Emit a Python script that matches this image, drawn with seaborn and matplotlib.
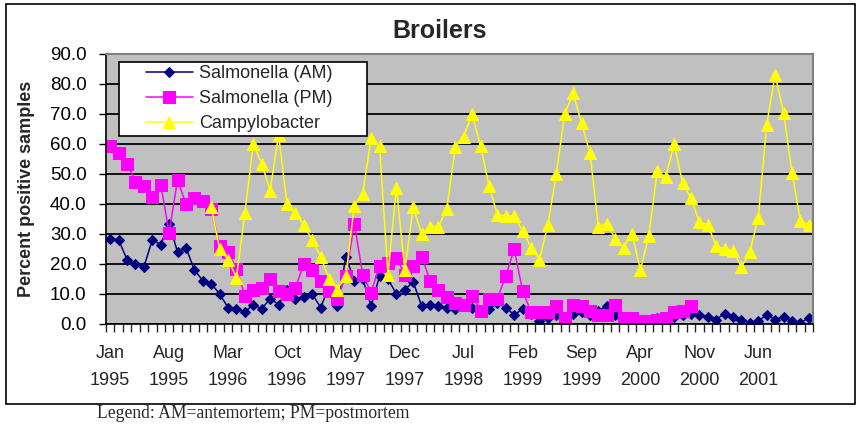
"""Broilers: monthly Salmonella / Campylobacter percent positive samples."""

import numpy as np
import pandas as pd
import matplotlib
matplotlib.use('Agg')
import matplotlib.pyplot as plt
from matplotlib.patches import Rectangle
from matplotlib.ticker import FixedLocator, FormatStrFormatter
import seaborn as sns

# Monthly values, Jan 1995 - Dec 2001 (percent positive samples)
salmonella_am = [28.5, 28.0, 21.5, 20.0, 19.0, 28.0, 26.5, 33.5, 24.0, 25.5,
                 18.0, 14.5, 13.5, 10.0, 5.5, 5.0, 4.0, 6.5, 5.0, 8.5,
                 6.5, 11.5, 8.5, 9.0, 10.0, 5.5, 12.5, 6.0, 22.5, 14.5,
                 15.0, 6.0, 16.0, 15.0, 10.0, 11.5, 14.0, 6.0, 6.5, 6.0,
                 5.5, 5.0, 6.0, 5.5, 4.5, 5.0, 7.0, 5.5, 3.0, 5.0,
                 3.5, 1.0, 2.0, 3.0, 1.5, 3.5, 4.0, 3.0, 4.5, 6.0,
                 3.0, 1.0, 1.5, 0.5, 1.0, 2.0, 1.5, 2.5, 3.0, 3.5,
                 3.0, 2.5, 1.5, 3.5, 2.5, 1.5, 0.5, 1.0, 3.0, 1.5,
                 2.5, 1.0, 0.5, 2.0]

salmonella_pm = [59.5, 57.0, 53.5, 47.5, 46.0, 42.5, 46.5, 30.5, 48.0, 40.0,
                 42.0, 41.0, 38.5, 26.0, 24.0, 18.5, 9.5, 11.5, 12.0, 15.0,
                 11.0, 10.0, 12.0, 20.0, 18.0, 14.5, 11.0, 8.5, 16.0, 33.5,
                 16.5, 10.5, 19.5, 20.5, 22.0, 16.5, 19.5, 22.5, 14.5, 11.5,
                 9.0, 7.0, 6.5, 9.5, 4.5, 8.5, 8.5, 16.0, 25.0, 11.0,
                 4.0, 4.0, 4.0, 6.0, 2.0, 6.5, 6.0, 4.5, 3.0, 3.0,
                 6.5, 2.0, 2.0, 1.0, 1.0, 1.5, 2.0, 4.0, 4.5, 6.0] + [np.nan] * 14

campylobacter = [np.nan] * 12 + [
    39.0, 25.0, 21.5, 15.5, 37.0, 60.0, 53.5, 44.5, 63.0, 40.0,
    37.0, 33.0, 28.0, 22.5, 15.0, 11.5, 16.0, 39.5, 43.5, 62.0,
    59.5, 16.5, 45.5, 18.0, 39.0, 30.0, 32.5, 32.5, 38.5, 59.0,
    62.5, 70.0, 59.5, 46.0, 36.5, 36.0, 36.0, 31.0, 25.5, 21.5,
    33.0, 50.0, 70.0, 77.0, 67.0, 57.0, 32.5, 33.5, 28.5, 25.5,
    30.0, 18.0, 29.5, 51.0, 49.0, 60.0, 47.0, 42.0, 34.0, 33.0,
    26.0, 25.0, 24.5, 19.0, 24.0, 35.5, 66.5, 83.0, 70.5, 50.5,
    34.5, 33.0]

tick_labels = ['Jan\n1995', 'Aug\n1995', 'Mar\n1996', 'Oct\n1996', 'May\n1997',
               'Dec\n1997', 'Jul\n1998', 'Feb\n1999', 'Sep\n1999', 'Apr\n2000',
               'Nov\n2000', 'Jun\n2001']

series_names = ['Salmonella (AM)', 'Salmonella (PM)', 'Campylobacter']

sns.set_style("ticks")
plt.rcParams['font.family'] = ['Liberation Sans', 'DejaVu Sans']

df = pd.DataFrame({
    'month': np.arange(len(salmonella_am)),
    'Salmonella (AM)': salmonella_am,
    'Salmonella (PM)': salmonella_pm,
    'Campylobacter': campylobacter,
})

styles = {
    'Salmonella (AM)': dict(color='#000080', marker='D', markersize=5.2),
    'Salmonella (PM)': dict(color='#FF00FF', marker='s', markersize=8),
    'Campylobacter': dict(color='#FFFF00', marker='^', markersize=9),
}

fig = plt.figure(figsize=(8.61, 4.25), dpi=100)
ax = fig.add_axes([106 / 861, 1 - 324 / 425, 707 / 861, 270 / 425])
ax.set_facecolor('#C0C0C0')

for name in series_names:
    st = styles[name]
    sns.lineplot(data=df, x='month', y=name, ax=ax, label=name,
                 color=st['color'], marker=st['marker'],
                 markersize=st['markersize'], markeredgecolor=st['color'],
                 linewidth=1.1)

n = len(df)
ax.set_xlim(-0.5, n - 0.5)
ax.set_ylim(0, 90)

# y axis
ax.set_yticks(np.arange(0, 91, 10))
ax.yaxis.set_major_formatter(FormatStrFormatter('%.1f'))
ax.tick_params(axis='y', direction='out', length=5, width=1, pad=9,
               labelsize=13.5, colors='black')
ax.yaxis.grid(True, color='black', linewidth=1.3)
ax.set_axisbelow(True)

# x axis: label every 7th month, tick mark at every month boundary
ax.set_xticks(np.arange(0, n, 7)[:len(tick_labels)])
ax.set_xticklabels(tick_labels)
ax.xaxis.set_minor_locator(FixedLocator(np.arange(-0.5, n, 1)))
ax.tick_params(axis='x', which='major', length=0, pad=15, labelsize=13)
ax.tick_params(axis='x', which='minor', direction='out', length=6, width=1)
plt.setp(ax.get_xticklabels(), linespacing=1.75)
ax.set_xlabel('')

ax.set_ylabel('Percent positive samples', fontsize=13, fontweight='bold')
ax.yaxis.set_label_coords(-0.1, 0.5)

for side in ['top', 'right']:
    ax.spines[side].set_color('#808080')
    ax.spines[side].set_linewidth(1.5)
for side in ['left', 'bottom']:
    ax.spines[side].set_color('black')
    ax.spines[side].set_linewidth(1.2)

# legend box drawn separately so it can be wider than its content
ax.add_patch(Rectangle(((119 - 106) / 707, (324 - 136) / 270),
                       (367 - 119) / 707, (136 - 62.5) / 270,
                       transform=ax.transAxes, facecolor='white',
                       edgecolor='black', linewidth=1.2, zorder=4))
leg = ax.legend(loc='upper left', bbox_to_anchor=((146 - 106) / 707, (324 - 65) / 270),
                borderaxespad=0, borderpad=0, frameon=False, fontsize=13,
                handlelength=2.6, labelspacing=0.45, handletextpad=0.35)
leg.set_zorder(5)

fig.text(440 / 861, 1 - 31 / 425, 'Broilers', ha='center', va='center',
         fontsize=18, fontweight='bold')

fig.text(97 / 861, 1 - 413 / 425, 'Legend: AM=antemortem; PM=postmortem',
         ha='left', va='center', fontsize=12.7, family='Liberation Serif')

# outer chart border
fig.patches.append(Rectangle((6 / 861, 1 - 404 / 425), 849 / 861, 400 / 425,
                             transform=fig.transFigure, fill=False,
                             edgecolor='black', linewidth=1.2))

fig.savefig('out.png', dpi=100)
plt.close(fig)
